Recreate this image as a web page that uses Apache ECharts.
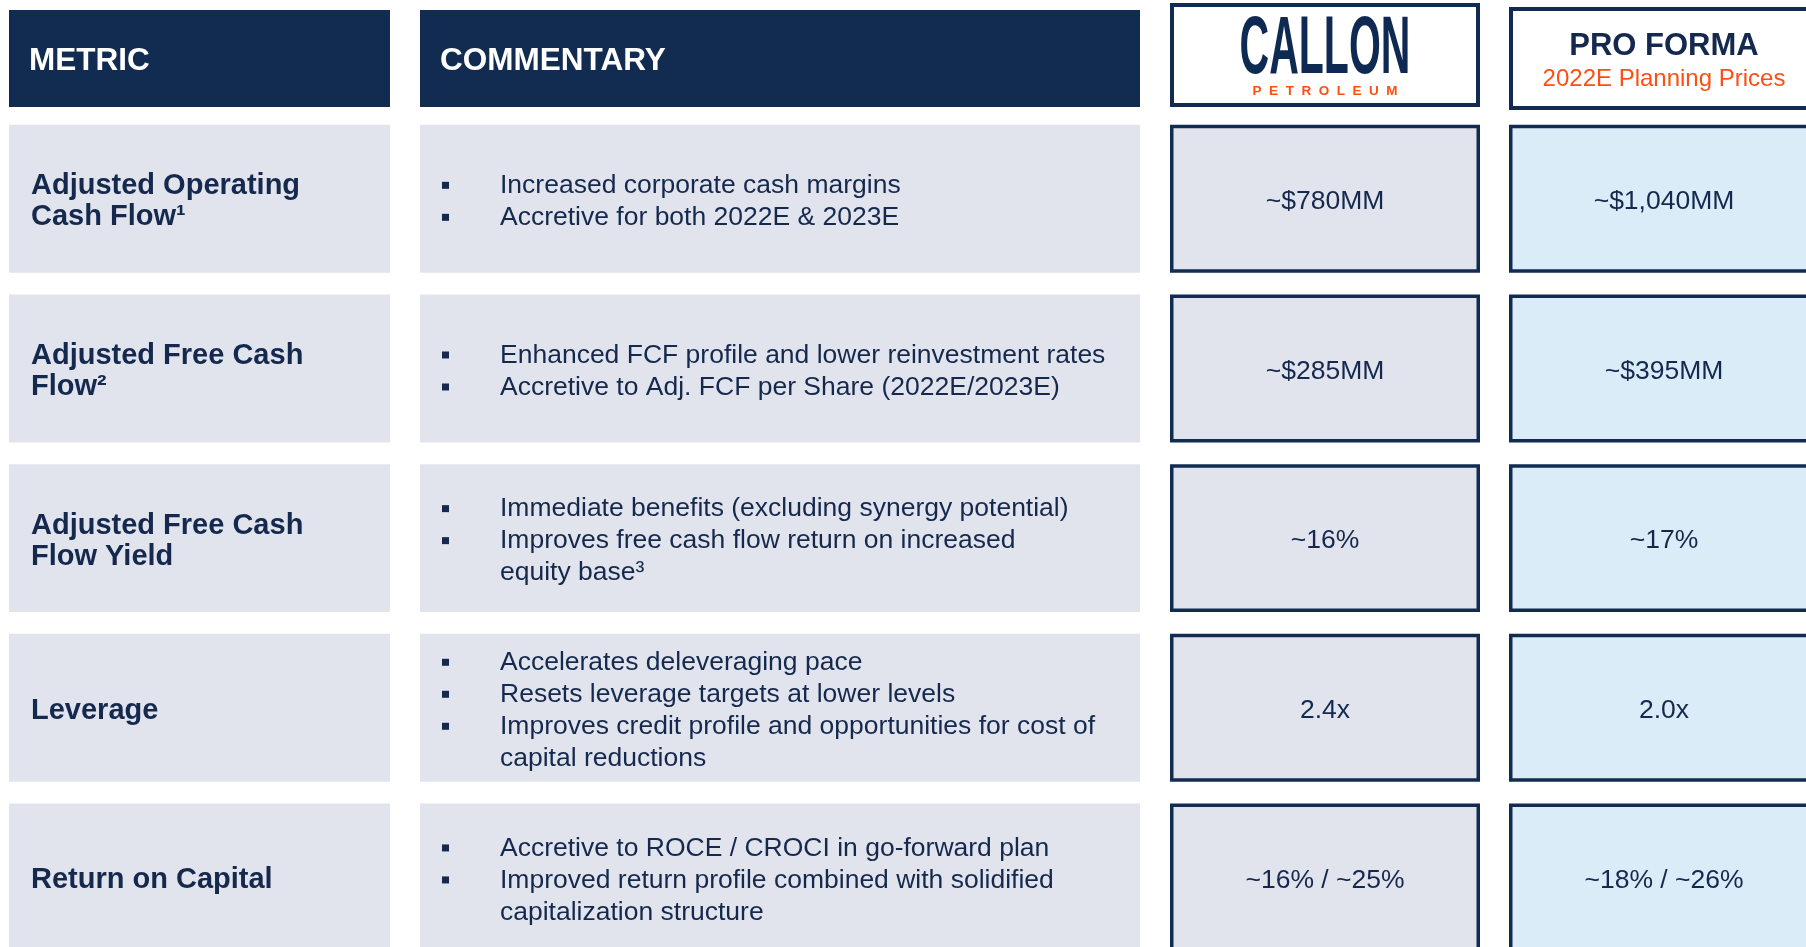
<!DOCTYPE html>
<html>
<head>
<meta charset="utf-8">
<title>Pro Forma Metrics</title>
<style>
  body { margin: 0; background: #ffffff; }
  #main { width: 1806px; height: 947px; }
</style>
<script src="https://cdn.jsdelivr.net/npm/echarts@6/dist/echarts.min.js"></script>
</head>
<body>
<div id="main"></div>
<script>
// table content
var headers = ['METRIC', 'COMMENTARY'];
var logoText = ['CALLON', 'PETROLEUM'];
var proFormaTitle = ['PRO FORMA', '2022E Planning Prices'];

var metrics = [
  'Adjusted Operating\nCash Flow¹',
  'Adjusted Free Cash\nFlow²',
  'Adjusted Free Cash\nFlow Yield',
  'Leverage',
  'Return on Capital'
];
// each bullet is a list of wrapped lines
var commentary = [
  [['Increased corporate cash margins'], ['Accretive for both 2022E & 2023E']],
  [['Enhanced FCF profile and lower reinvestment rates'], ['Accretive to Adj. FCF per Share (2022E/2023E)']],
  [['Immediate benefits (excluding synergy potential)'], ['Improves free cash flow return on increased', 'equity base³']],
  [['Accelerates deleveraging pace'], ['Resets leverage targets at lower levels'], ['Improves credit profile and opportunities for cost of', 'capital reductions']],
  [['Accretive to ROCE / CROCI in go-forward plan'], ['Improved return profile combined with solidified', 'capitalization structure']]
];
var callonValues = ['~$780MM', '~$285MM', '~16%', '2.4x', '~16% / ~25%'];
var proFormaValues = ['~$1,040MM', '~$395MM', '~17%', '2.0x', '~18% / ~26%'];

// colours / layout
var NAVY = '#122c51';
var TEXT = '#15294e';
var ORANGE = '#fb4f14';
var GREY = '#e1e4ec';
var BLUE = '#daecf8';
var FONT = '"Liberation Sans", Arial, sans-serif';
var cols = [[9, 390], [420, 1140], [1170, 1480], [1509, 1819]];

var chart = echarts.init(document.getElementById('main'));

function renderRow(params, api) {
  var i = params.dataIndex;
  var cy = api.coord([0, i])[1];
  var h = api.size([0, 1])[1] * 0.872;
  var top = cy - h / 2;
  var ty = cy + 3; // text sits a little low in the cells
  var xs = cols.map(function (c) {
    return [api.coord([c[0], i])[0], api.coord([c[1], i])[0]];
  });
  var kids = [];

  // metric
  kids.push({ type: 'rect', shape: { x: xs[0][0], y: top, width: xs[0][1] - xs[0][0], height: h }, style: { fill: GREY } });
  kids.push({ type: 'text', style: {
    text: metrics[i], x: xs[0][0] + 22, y: ty, fill: TEXT,
    fontSize: 29, fontWeight: 'bold', fontFamily: FONT, lineHeight: 31,
    align: 'left', verticalAlign: 'middle'
  } });

  // commentary
  kids.push({ type: 'rect', shape: { x: xs[1][0], y: top, width: xs[1][1] - xs[1][0], height: h }, style: { fill: GREY } });
  var bullets = commentary[i];
  var n = 0;
  bullets.forEach(function (b) { n += b.length; });
  var pitch = 32;
  var y = ty - (n - 1) * pitch / 2;
  bullets.forEach(function (b) {
    kids.push({ type: 'rect', shape: { x: xs[1][0] + 22, y: y - 4, width: 7, height: 7 }, style: { fill: TEXT } });
    b.forEach(function (line) {
      kids.push({ type: 'text', style: {
        text: line, x: xs[1][0] + 80, y: y, fill: TEXT,
        fontSize: 26.5, fontFamily: FONT, align: 'left', verticalAlign: 'middle'
      } });
      y += pitch;
    });
  });

  // value boxes
  var lw = 3.5;
  [[callonValues, GREY], [proFormaValues, BLUE]].forEach(function (v, k) {
    var c = xs[k + 2];
    kids.push({ type: 'rect', shape: { x: c[0] + lw / 2, y: top + lw / 2, width: c[1] - c[0] - lw, height: h - lw },
      style: { fill: v[1], stroke: NAVY, lineWidth: lw } });
    kids.push({ type: 'text', style: {
      text: v[0][i], x: (c[0] + c[1]) / 2, y: ty, fill: TEXT,
      fontSize: 26.5, fontFamily: FONT, align: 'center', verticalAlign: 'middle'
    } });
  });

  return { type: 'group', children: kids };
}

var graphics = [];
// dark header cells
headers.forEach(function (t, k) {
  graphics.push({ type: 'rect', shape: { x: cols[k][0], y: 10, width: cols[k][1] - cols[k][0], height: 97 }, style: { fill: NAVY } });
  graphics.push({ type: 'text', x: cols[k][0] + 20, y: 61, style: {
    text: t, fill: '#ffffff', fontSize: 31.5, fontWeight: 'bold', fontFamily: FONT, align: 'left', verticalAlign: 'middle'
  } });
});
// Callon logo box
graphics.push({ type: 'rect', shape: { x: cols[2][0] + 2, y: 5, width: cols[2][1] - cols[2][0] - 4, height: 100 },
  style: { fill: '#ffffff', stroke: NAVY, lineWidth: 4 } });
graphics.push({ type: 'text', x: (cols[2][0] + cols[2][1]) / 2, y: 50, scaleX: 0.5, style: {
  text: logoText[0], fill: '#0e2a52', fontSize: 82, fontWeight: 'bold', fontFamily: FONT, align: 'center', verticalAlign: 'middle'
} });
graphics.push({ type: 'text', x: (cols[2][0] + cols[2][1]) / 2, y: 91, style: {
  text: logoText[1].split('').join('  '), fill: ORANGE, fontSize: 13.5, fontWeight: 'bold', fontFamily: FONT, align: 'center', verticalAlign: 'middle'
} });
// Pro forma box
graphics.push({ type: 'rect', shape: { x: cols[3][0] + 2, y: 9, width: cols[3][1] - cols[3][0] - 4, height: 99 },
  style: { fill: '#ffffff', stroke: NAVY, lineWidth: 4 } });
graphics.push({ type: 'text', x: (cols[3][0] + cols[3][1]) / 2, y: 46, style: {
  text: proFormaTitle[0], fill: TEXT, fontSize: 31, fontWeight: 'bold', fontFamily: FONT, align: 'center', verticalAlign: 'middle'
} });
graphics.push({ type: 'text', x: (cols[3][0] + cols[3][1]) / 2, y: 79, style: {
  text: proFormaTitle[1], fill: ORANGE, fontSize: 24, fontFamily: FONT, align: 'center', verticalAlign: 'middle'
} });

var option = {
  animation: false,
  grid: { left: 0, right: 0, top: 114, bottom: 0 },
  xAxis: { type: 'value', min: 0, max: 1806, show: false },
  // row index axis; one unit = one table row
  yAxis: { type: 'value', inverse: true, min: -0.5, max: 4.41, show: false },
  graphic: graphics,
  series: [{
    type: 'custom',
    renderItem: renderRow,
    clip: false,
    encode: { x: 0, y: 1 },
    data: metrics.map(function (m, i) { return [0, i]; })
  }]
};
chart.setOption(option);
</script>
</body>
</html>
